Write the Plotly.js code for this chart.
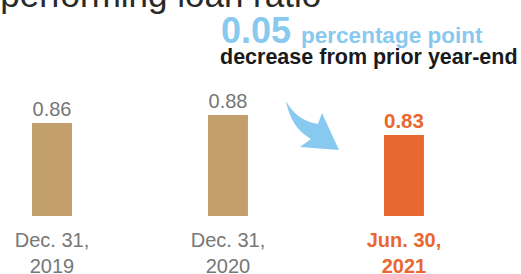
<!DOCTYPE html>
<html>
<head>
<meta charset="utf-8">
<script src="https://cdn.plot.ly/plotly-3.0.1.min.js"></script>
<style>html,body{margin:0;padding:0;background:#fff;}#chart{width:521px;height:274px;}</style>
</head>
<body>
<div id="chart"></div>
<script>
// Data
const categories = ['Dec. 31, 2019', 'Dec. 31, 2020', 'Jun. 30, 2021'];
const tickLabels = ['Dec. 31,<br>2019', 'Dec. 31,<br>2020', 'Jun. 30,<br>2021'];
const ratios = [0.86, 0.88, 0.83];
const titleText = 'Nonperforming loan ratio';
const changeValue = '0.05';
const changeUnit = 'percentage point';
const changeNote = 'decrease from prior year-end';

const W = 521, H = 274, B = 58, PH = H - B;
const px = x => x / W;
const py = y => (PH - y) / PH;

const tan = '#C3A06B', orange = '#E96730', blue = '#88C9EF', gray = '#777777';
const FONT = 'Liberation Sans, Arial, sans-serif';

const barColors = categories.map((c, i) => i === categories.length - 1 ? orange : tan);
const barText = ratios.map((v, i) => i === ratios.length - 1 ? '<b>' + v.toFixed(2) + '</b>' : v.toFixed(2));
const textColors = categories.map((c, i) => i === categories.length - 1 ? orange : gray);
const tickText = tickLabels.map((t, i) => i === tickLabels.length - 1
  ? t.split('<br>').map(s => '<span style="color:' + orange + '"><b>' + s + '</b></span>').join('<br>')
  : t);

const trace = {
  type: 'bar',
  x: categories,
  y: ratios,
  width: 0.227,
  marker: {color: barColors},
  text: barText,
  textposition: 'outside',
  cliponaxis: false,
  textfont: {family: FONT, size: [20, 20, 21], color: textColors},
  hoverinfo: 'none'
};

// arrow path in pixel coords -> paper
function P(x, y) { return px(x).toFixed(4) + ',' + py(y).toFixed(4); }
const arrowPath = 'M' + P(286, 101) + ' Q' + P(297, 121) + ' ' + P(318, 124) +
  ' L' + P(322, 113) + ' L' + P(339, 150) + ' L' + P(300, 147) + ' L' + P(311, 139) +
  ' Q' + P(291, 128) + ' ' + P(286, 101) + ' Z';

const layout = {
  width: W, height: H,
  margin: {l: 0, r: 0, t: 0, b: B, pad: 0},
  paper_bgcolor: '#fff', plot_bgcolor: '#fff',
  showlegend: false,
  font: {family: FONT},
  xaxis: {
    type: 'category',
    range: [-0.2955, 2.665],
    tickvals: categories,
    ticktext: tickText,
    showgrid: false, zeroline: false, showline: false,
    ticks: '', ticklabelstandoff: 10,
    tickfont: {family: FONT, size: 20, color: gray}
  },
  yaxis: {
    range: [0.6275, 1.1675],
    visible: false, showgrid: false, zeroline: false
  },
  shapes: [{
    type: 'path', xref: 'paper', yref: 'paper', path: arrowPath,
    fillcolor: blue, line: {width: 0}
  }],
  annotations: [
    {xref: 'paper', yref: 'paper', x: px(323), y: py(16), xanchor: 'right', yanchor: 'bottom',
     text: titleText, showarrow: false, font: {family: FONT, size: 35, color: '#2a2a2a'}},
    {xref: 'paper', yref: 'paper', x: px(219), y: py(53), xanchor: 'left', yanchor: 'bottom',
     text: '<b>' + changeValue + '</b> <span style="font-size:22.5px"><b>' + changeUnit + '</b></span>',
     showarrow: false, font: {family: FONT, size: 36, color: blue}},
    {xref: 'paper', yref: 'paper', x: px(218), y: py(71), xanchor: 'left', yanchor: 'bottom',
     text: '<b>' + changeNote + '</b>', showarrow: false, font: {family: FONT, size: 21.5, color: '#1a1a1a'}}
  ]
};

Plotly.newPlot('chart', [trace], layout, {displayModeBar: false, staticPlot: true});
</script>
</body>
</html>
